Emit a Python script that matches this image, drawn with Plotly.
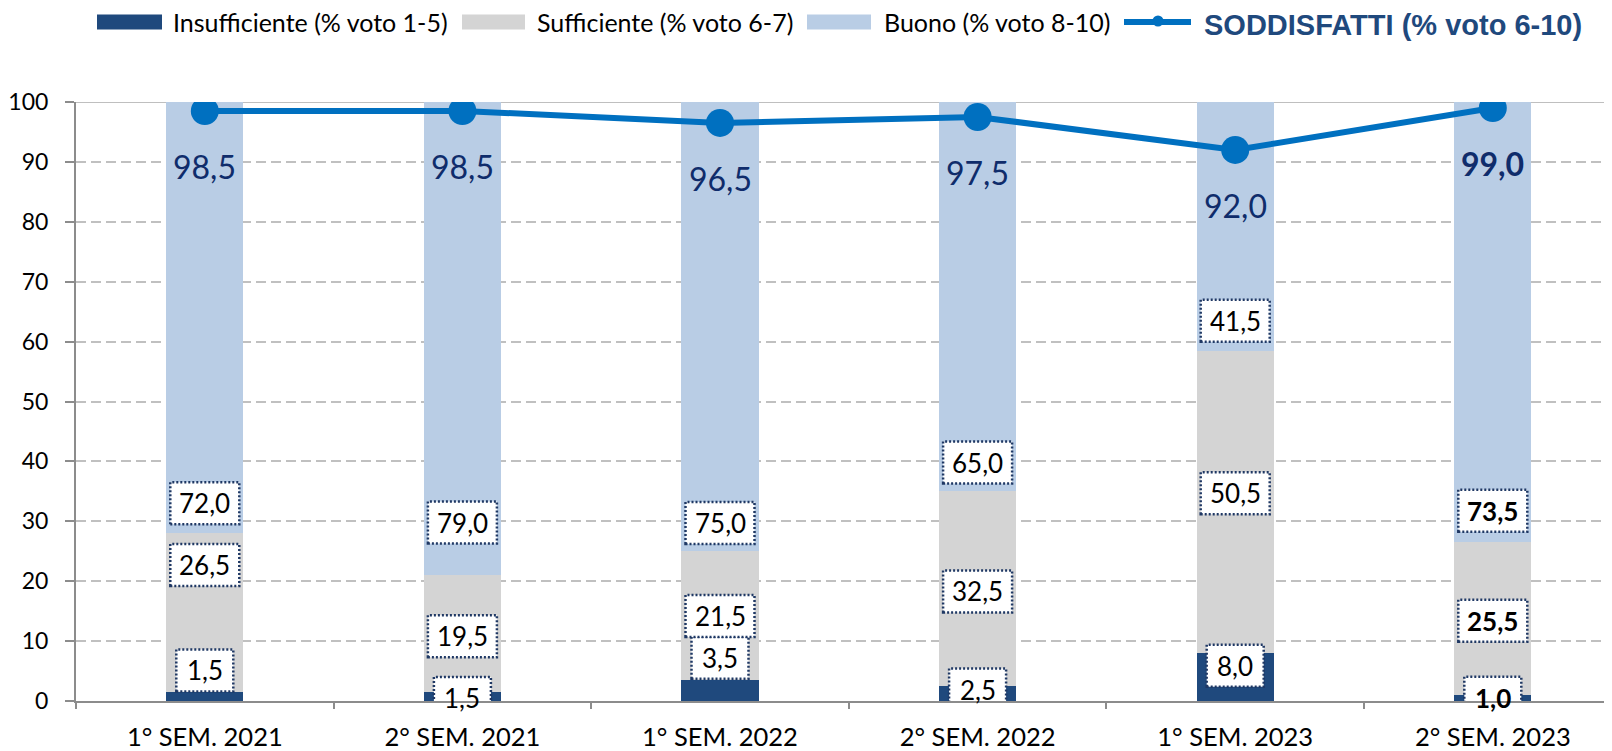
import plotly.graph_objects as go

categories = ["1° SEM. 2021", "2° SEM. 2021", "1° SEM. 2022", "2° SEM. 2022", "1° SEM. 2023", "2° SEM. 2023"]
insufficiente = [1.5, 1.5, 3.5, 2.5, 8.0, 1.0]
sufficiente = [26.5, 19.5, 21.5, 32.5, 50.5, 25.5]
buono = [72.0, 79.0, 75.0, 65.0, 41.5, 73.5]
soddisfatti = [98.5, 98.5, 96.5, 97.5, 92.0, 99.0]

# manual label placements (data units) as in the original chart
label_y_ins = [5.1, 0.5, 7.2, 1.9, 5.9, 0.55]
label_y_suf = [22.7, 10.8, 14.2, 18.3, 34.7, 13.4]
label_y_buo = [33.0, 29.8, 29.7, 39.8, 63.5, 31.75]
bold_cols = [False, False, False, False, False, True]

legend_names = ["Insufficiente (% voto 1-5)", "Sufficiente (% voto 6-7)", "Buono (% voto 8-10)", "SODDISFATTI (% voto 6-10)"]

C_INS = "#1F497D"
C_SUF = "#D4D4D4"
C_BUO = "#B9CDE5"
C_LINE = "#0070C0"
C_NAVY = "#1F3864"
C_LBL = "#0F2C6B"
FONT = "Lato"

OFF = 8  # page body margin
W, H = 1612 - OFF, 751 - OFF
ML, MT = 76 - OFF, 102 - OFF
MB = H - (701 - OFF)
MR = 0
PW = W - ML - MR
PH = H - MT - MB
X_HI = -0.5 + PW / 257.6


def fmt(v):
    return f"{v:.1f}".replace(".", ",")


def pxx(px):
    return (px - OFF - ML) / PW


def pxy(py):
    return (H - MB - (py - OFF)) / PH


fig = go.Figure()
fig.add_trace(go.Bar(x=categories, y=insufficiente, name=legend_names[0], marker=dict(color=C_INS, line=dict(width=0)), width=0.3, showlegend=False))
fig.add_trace(go.Bar(x=categories, y=sufficiente, name=legend_names[1], marker=dict(color=C_SUF, line=dict(width=0)), width=0.3, showlegend=False))
fig.add_trace(go.Bar(x=categories, y=buono, name=legend_names[2], marker=dict(color=C_BUO, line=dict(width=0)), width=0.3, showlegend=False))
fig.add_trace(go.Scatter(x=categories, y=soddisfatti, name=legend_names[3], mode="lines+markers",
                         line=dict(color=C_LINE, width=6), marker=dict(color=C_LINE, size=28), showlegend=False))

shapes = []
annotations = []

# top solid line at 100
shapes.append(dict(type="line", xref="paper", yref="y", x0=0, x1=1, y0=100, y1=100,
                   line=dict(color="#BFBFBF", width=2), layer="below"))

# boxed value labels
for series, ly in ((insufficiente, label_y_ins), (sufficiente, label_y_suf), (buono, label_y_buo)):
    for i, cat in enumerate(categories):
        txt = fmt(series[i])
        hw = 34.5 if len(txt) >= 4 else 28.5
        shapes.append(dict(type="rect", xref="x", yref="y", xsizemode="pixel", ysizemode="pixel",
                           xanchor=i, yanchor=ly[i], x0=-hw, x1=hw, y0=-21, y1=21,
                           line=dict(color=C_NAVY, width=2.5, dash="2px,2px"), fillcolor="white", layer="above"))
        annotations.append(dict(x=cat, y=ly[i], xref="x", yref="y", showarrow=False,
                                text=(f"<b>{txt}</b>" if bold_cols[i] else txt),
                                font=dict(family=FONT, size=26, color="black"), xanchor="center", yanchor="middle"))

# line value labels
for i, cat in enumerate(categories):
    txt = fmt(soddisfatti[i])
    annotations.append(dict(x=cat, y=soddisfatti[i], xref="x", yref="y", showarrow=False, yshift=-56,
                            text=(f"<b>{txt}</b>" if bold_cols[i] else txt),
                            font=dict(family=FONT, size=32, color=C_LBL), xanchor="center", yanchor="middle"))

# custom legend
ly = 22
sw = [(97, 162, C_INS, 171), (462, 525, C_SUF, 535), (807, 871, C_BUO, 882)]
for (x0, x1, col, tx), name in zip(sw, legend_names[:3]):
    shapes.append(dict(type="rect", xref="paper", yref="paper", x0=pxx(x0), x1=pxx(x1),
                       y0=pxy(ly + 7.5), y1=pxy(ly - 7.5), fillcolor=col, line=dict(width=0)))
    annotations.append(dict(x=pxx(tx), y=pxy(ly), xref="paper", yref="paper", showarrow=False, text=name,
                            font=dict(family=FONT, size=25, color="black"), xanchor="left", yanchor="middle"))
shapes.append(dict(type="line", xref="paper", yref="paper", x0=pxx(1124), x1=pxx(1191), y0=pxy(ly), y1=pxy(ly),
                   line=dict(color=C_LINE, width=6)))
shapes.append(dict(type="circle", xref="paper", yref="paper", xsizemode="pixel", ysizemode="pixel",
                   xanchor=pxx(1158), yanchor=pxy(ly - 1), x0=-5.5, x1=5.5, y0=-5.5, y1=5.5,
                   fillcolor=C_LINE, line=dict(width=0)))
annotations.append(dict(x=pxx(1202), y=pxy(ly + 2.5), xref="paper", yref="paper", showarrow=False,
                        text=f"<b>{legend_names[3]}</b>",
                        font=dict(family="Liberation Sans", size=29, color=C_INS), xanchor="left", yanchor="middle"))

fig.update_layout(
    width=W, height=H,
    margin=dict(l=ML, r=MR, t=MT, b=MB),
    paper_bgcolor="white", plot_bgcolor="white",
    barmode="stack",
    showlegend=False,
    shapes=shapes, annotations=annotations,
    font=dict(family=FONT, color="black"),
    xaxis=dict(type="category", range=[-0.5, X_HI], showgrid=False, showline=True, linecolor="#8C8C8C", linewidth=2,
               ticks="outside", tickson="boundaries", ticklen=6, tickcolor="#8C8C8C", tickwidth=2,
               ticklabelstandoff=12,
               tickfont=dict(family=FONT, size=25.5, color="black"), fixedrange=True),
    yaxis=dict(range=[0, 100], dtick=10, tick0=0, showgrid=True, gridcolor="#C0C0C0", gridwidth=2, griddash="10px,5px",
               showline=True, linecolor="#8C8C8C", linewidth=2, ticks="outside", ticklen=9, tickcolor="#8C8C8C",
               tickwidth=2, ticklabelstandoff=12, tickfont=dict(family=FONT, size=23, color="black"),
               zeroline=False, fixedrange=True),
)

fig.write_html("out.html")
